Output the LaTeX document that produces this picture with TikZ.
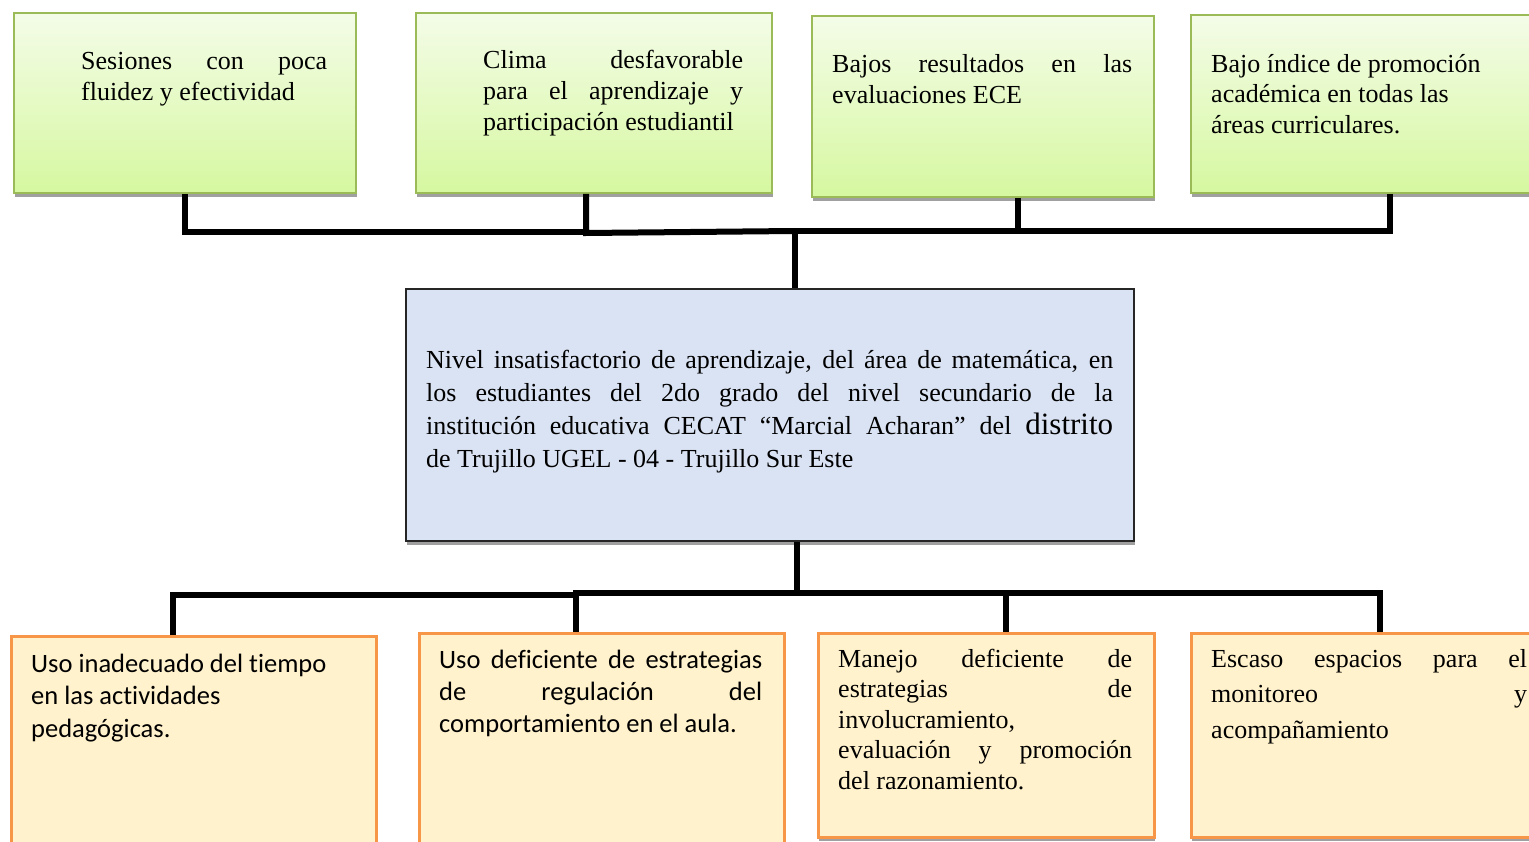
\documentclass[tikz,border=0pt]{standalone}
\usepackage{fontspec}
\setmainfont{Liberation Serif}[Ligatures=NoCommon]
\newfontfamily\calfont{Carlito}[Ligatures=NoCommon]
\usetikzlibrary{shadows,calc}
\definecolor{gtop}{RGB}{244,252,232}
\definecolor{gbot}{RGB}{214,248,160}
\definecolor{gborder}{RGB}{155,187,89}
\definecolor{shadowgray}{RGB}{160,160,160}
\definecolor{cfill}{RGB}{218,227,243}
\definecolor{ofill}{RGB}{255,242,204}
\definecolor{oborder}{RGB}{247,150,70}
\newcommand{\JL}[2]{\makebox[#1][s]{#2}}
\begin{document}
\begin{tikzpicture}[x=1pt,y=-1pt,
  shadowed/.style={drop shadow={shadow xshift=1pt,shadow yshift=-4pt,fill=shadowgray,opacity=1}},
  topbox/.style={shadowed,draw=gborder,line width=2pt,top color=gtop,bottom color=gbot,anchor=north west,inner sep=0pt},
  midbox/.style={shadowed,draw=black!85,line width=2pt,fill=cfill,anchor=north west,inner sep=0pt},
  botbox/.style={shadowed,draw=oborder,line width=2.5pt,fill=ofill,anchor=north west,inner sep=0pt},
  txt/.style={anchor=north west,inner sep=0pt,align=left,text=black},
  conn/.style={draw=black,line width=6pt,line join=miter}]
\path[use as bounding box,clip] (0,0) rectangle (1529,842);
\fill[white] (0,0) rectangle (1529,842);
% top boxes
\node[topbox,minimum width=342pt,minimum height=180pt] (t1) at (13,12) {};
\node[topbox,minimum width=356pt,minimum height=180pt] (t2) at (415,12) {};
\node[topbox,minimum width=342pt,minimum height=181pt] (t3) at (811,15) {};
\node[topbox,minimum width=380pt,minimum height=178pt] (t4) at (1190,14) {};
% center
\node[midbox,minimum width=728pt,minimum height=252pt] (c) at (405,288) {};
% bottom boxes
\node[botbox,minimum width=365pt,minimum height=260pt] (b1) at (10,635) {};
\node[botbox,minimum width=365pt,minimum height=260pt] (b2) at (418,632) {};
\node[botbox,minimum width=336pt,minimum height=204pt] (b3) at (817,632) {};
\node[botbox,minimum width=380pt,minimum height=204pt] (b4) at (1190,632) {};
% texts
\node[txt,font=\fontsize{26}{31}\selectfont] (t1x) at (81,47)
  {\JL{246pt}{\rule{0pt}{22pt}Sesiones con poca}\\fluidez y efectividad};
\node[txt,font=\fontsize{26}{31}\selectfont] (t2x) at (483,46)
  {\JL{260pt}{\rule{0pt}{22pt}Clima desfavorable}\\\JL{260pt}{para el aprendizaje y}\\participación estudiantil};
\node[txt,font=\fontsize{26}{31}\selectfont] (t3x) at (832,50)
  {\JL{300pt}{\rule{0pt}{22pt}Bajos resultados en las}\\evaluaciones ECE};
\node[txt,font=\fontsize{26}{30.5}\selectfont] (t4x) at (1211,50)
  {\rule{0pt}{22pt}Bajo índice de promoción\\académica en todas las\\áreas curriculares.};
\node[txt,font=\fontsize{26}{33}\selectfont] (cx) at (426,346)
  {\JL{687pt}{\rule{0pt}{22pt}Nivel insatisfactorio de aprendizaje, del área de matemática, en}\\
   \JL{687pt}{los estudiantes del 2do grado del nivel secundario de la}\\
   \JL{687pt}{institución educativa CECAT “Marcial Acharan” del {\fontsize{31}{33}\selectfont distrito}}\\
   de Trujillo UGEL - 04 - Trujillo Sur Este};
\node[txt,font=\calfont\fontsize{26.5}{32.5}\selectfont] (b1x) at (31,650)
  {\rule{0pt}{22pt}Uso inadecuado del tiempo\\en las actividades\\pedagógicas.};
\node[txt,font=\calfont\fontsize{26.5}{32}\selectfont] (b2x) at (439,646)
  {\JL{323pt}{\rule{0pt}{22pt}Uso deficiente de estrategias}\\\JL{323pt}{de regulación del}\\comportamiento en el aula.};
\node[txt,font=\fontsize{26}{30.5}\selectfont] (b3x) at (838,645)
  {\JL{294pt}{\rule{0pt}{22pt}Manejo deficiente de}\\\JL{294pt}{estrategias de}\\involucramiento,\\\JL{294pt}{evaluación y promoción}\\del razonamiento.};
\node[txt,font=\fontsize{26}{35.5}\selectfont] (b4x) at (1211,645)
  {\JL{316pt}{\rule{0pt}{22pt}Escaso espacios para el}\\\JL{316pt}{monitoreo y}\\acompañamiento};
% top connectors
\coordinate (busT) at (795,231);
\coordinate (k2) at ($(t2.south west)+(171,0)$);
\coordinate (k3) at ($(t3.south west)+(207,0)$);
\coordinate (k4) at ($(t4.south west)+(200,0)$);
\draw[conn] (t1.south) |- ($(k2)+(0,38)$);
\draw[conn] (k2) -- ($(k2)+(0,39)$) -- (busT);
\draw[conn] (k3) |- (busT);
\draw[conn] (k4) |- (busT);
\draw[conn] (busT) -- ($(c.north west)+(390,0)$);
% bottom connectors
\coordinate (busB) at (797,593);
\coordinate (m1) at ($(b1.north west)+(163,0)$);
\coordinate (m2) at ($(b2.north west)+(158,0)$);
\coordinate (m3) at ($(b3.north west)+(189,0)$);
\coordinate (m4) at ($(b4.north west)+(190,0)$);
\draw[conn] ($(c.south west)+(392,0)$) -- (busB);
\draw[conn] (m1) |- ($(m2)+(0,-37)$);
\draw[conn] (m2) -- ($(m2)+(0,-39)$) -- (busB);
\draw[conn] (m3) |- (busB);
\draw[conn] (m4) |- (busB);
\end{tikzpicture}
\end{document}
